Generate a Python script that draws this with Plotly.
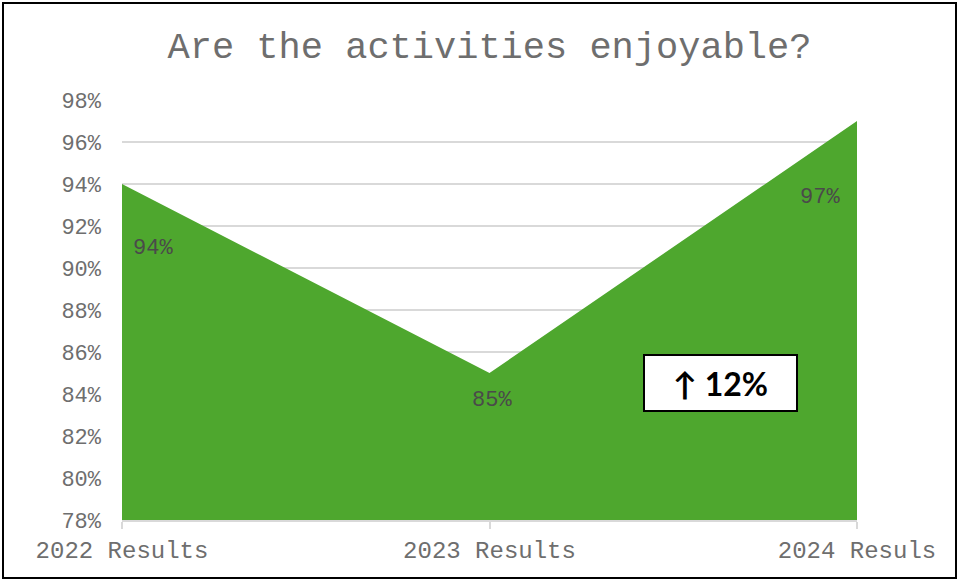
import plotly.graph_objects as go

categories = ["2022 Results", "2023 Results", "2024 Resuls"]
values = [94, 85, 97]
label_texts = ["94%", "85%", "97%"]
y_ticks = [78, 80, 82, 84, 86, 88, 90, 92, 94, 96, 98]
y_tick_text = ["78%", "80%", "82%", "84%", "86%", "88%", "90%", "92%", "94%", "96%", "98%"]
change_text = "↑ 12%"

x_idx = list(range(len(categories)))
W, H = 958, 580
L, R, T, B = 122, 101, 100, 60

fig = go.Figure()
fig.add_trace(go.Scatter(
    x=x_idx, y=values, mode="lines", fill="tozeroy",
    fillcolor="#4EA72E", line=dict(color="#4EA72E", width=0),
    hoverinfo="skip", showlegend=False,
))

mono = "Liberation Mono, Courier New, monospace"
# data labels
shifts = [(31, -64), (2, -27), (-37, -76)]
for i, (v, t) in enumerate(zip(values, label_texts)):
    fig.add_annotation(x=i, y=v, text=t, showarrow=False,
                       xshift=shifts[i][0], yshift=shifts[i][1],
                       font=dict(family=mono, size=22, color="#4a4a4a"))

pw, ph = W - L - R, H - T - B
# change box
fig.add_annotation(xref="paper", yref="paper", x=(720.5 - L) / pw,
                   y=(H - B - 383) / ph, xanchor="center", yanchor="middle",
                   text="<b>" + change_text + "</b>",
                   showarrow=False, bgcolor="white", bordercolor="black", borderwidth=2,
                   width=149, height=52,
                   font=dict(family="Lato, Open Sans, sans-serif", size=32, color="black"))

# outer border
fig.add_shape(type="rect", xref="paper", yref="paper",
              x0=(3 - L) / pw, x1=(956 - L) / pw, y0=(H - B - 578) / ph, y1=(H - B - 3) / ph,
              line=dict(color="black", width=2), fillcolor="rgba(0,0,0,0)", layer="above")

fig.update_layout(
    width=W, height=H, margin=dict(l=L, r=R, t=T, b=B),
    paper_bgcolor="white", plot_bgcolor="white",
    title=dict(text="Are the activities enjoyable?", x=0.5, xref="paper", xanchor="center",
               y=1 - 45 / H, yanchor="middle",
               font=dict(family=mono, size=37, color="#6e6e6e")),
    xaxis=dict(range=[0, 2], tickvals=x_idx, ticktext=categories, showgrid=False,
               zeroline=False, showline=True, linecolor="#D9D9D9", linewidth=1.5,
               ticks="outside", ticklen=7, tickcolor="#D9D9D9", tickwidth=1.5,
               tickfont=dict(family=mono, size=24, color="#6e6e6e")),
    yaxis=dict(range=[78, 98], tickvals=y_ticks, ticktext=y_tick_text, showgrid=True,
               gridcolor="#D9D9D9", gridwidth=1.5, zeroline=False, showline=False,
               ticks="", ticklabelstandoff=20,
               tickfont=dict(family=mono, size=22, color="#6e6e6e")),
)

fig.write_html("out.html", config={"displayModeBar": False},
               post_script="document.body.style.margin='0';")
